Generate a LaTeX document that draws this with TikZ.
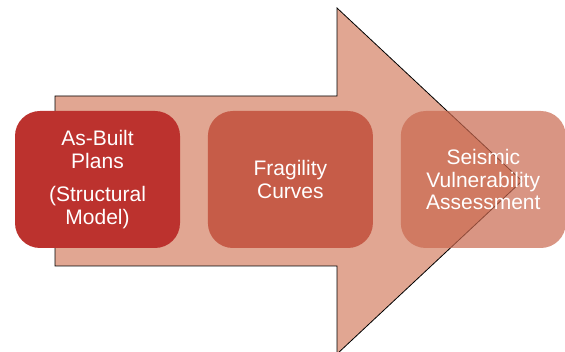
\documentclass[tikz,border=0pt]{standalone}
\usepackage{fontspec}
\setmainfont{Liberation Sans}
\usetikzlibrary{positioning}

\definecolor{arrowfill}{HTML}{E1A692}
\definecolor{boxone}{HTML}{BC322E}
\definecolor{boxtwo}{HTML}{C65C48}
\definecolor{boxthree}{HTML}{C9684F}

\tikzset{
	stage/.style={rectangle,rounded corners=25pt,minimum width=165pt,minimum height=137pt,
		align=center,text=white,font=\fontsize{21}{22.5}\selectfont,inner sep=0pt}
}

\begin{document}
\begin{tikzpicture}[x=1pt,y=-1pt,node distance=27.5pt]
	\useasboundingbox (0,0) rectangle (565,352);
	\clip (0,0) rectangle (565,352);
	\draw[fill=arrowfill,line width=0.8pt] (55,96) -- (337,96) -- (337,8) -- (522,181)
		-- (337,354) -- (337,266) -- (55,266) -- cycle;
	\node[stage,fill=boxone] (plans) at (97.5,179.5) {As-Built\\Plans\\[11pt](Structural\\Model)};
	\node[stage,fill=boxtwo,right=of plans] (curves) {Fragility\\Curves};
	\node[stage,fill=boxthree,fill opacity=0.7,text opacity=1,right=of curves] (assess) {Seismic\\Vulnerability\\Assessment};
\end{tikzpicture}
\end{document}
